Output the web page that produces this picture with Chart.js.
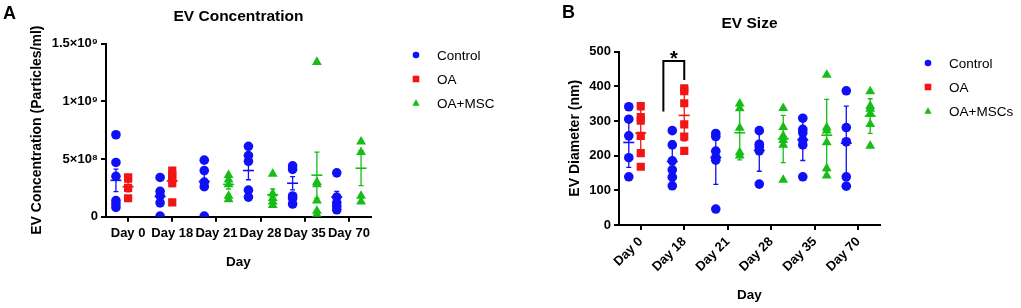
<!DOCTYPE html>
<html><head><meta charset="utf-8">
<script src="https://cdn.jsdelivr.net/npm/chart.js@4.4.1/dist/chart.umd.min.js"></script>
<style>
html,body{margin:0;padding:0;background:#fff;width:1021px;height:308px;overflow:hidden}
#ca{position:absolute;left:0;top:0;width:510px;height:308px}
#cb{position:absolute;left:510px;top:0;width:511px;height:308px}
</style></head><body>
<canvas id="ca" width="510" height="308"></canvas>
<canvas id="cb" width="511" height="308"></canvas>
<script>
// ---------- DATA ----------
const categories = ['Day 0', 'Day 18', 'Day 21', 'Day 28', 'Day 35', 'Day 70'];

// Panel A: EV concentration (particles/ml)
const concControl = [
  [7.1e8, 4.7e8, 3.5e8, 1.4e8, 1.1e8, 0.8e8],
  [3.4e8, 2.2e8, 1.8e8, 1.2e8, 0.05e8],
  [4.9e8, 4.0e8, 3.0e8, 2.6e8, 0.05e8],
  [6.1e8, 5.3e8, 4.8e8, 2.3e8, 1.7e8],
  [4.4e8, 4.1e8, 1.8e8, 1.6e8, 1.1e8],
  [3.8e8, 1.7e8, 1.2e8, 0.9e8, 0.6e8]
];
const concOA = [
  [3.4e8, 3.3e8, 2.5e8, 1.6e8],
  [4.0e8, 3.6e8, 3.3e8, 2.9e8, 1.25e8],
  null, null, null, null
];
const concMSC = [
  null, null,
  [3.6e8, 3.2e8, 2.8e8, 1.8e8, 1.5e8],
  [3.7e8, 2.0e8, 1.6e8, 1.3e8, 1.0e8],
  [13.4e8, 3.0e8, 2.8e8, 1.4e8, 0.5e8, 0.2e8],
  [6.5e8, 5.6e8, 1.8e8, 1.3e8]
];
const concMeanControl = [3.15e8, 1.75e8, 3.05e8, 4.0e8, 2.9e8, 1.7e8];
const concSemControl  = [0.97e8, 0.55e8, 0.75e8, 0.8e8, 0.58e8, 0.5e8];
const concMeanOA = [2.6e8, 3.1e8, null, null, null, null];
const concSemOA  = [0.45e8, 0.5e8, null, null, null, null];
const concMeanMSC = [null, null, 2.8e8, 1.9e8, 3.6e8, 4.2e8];
const concSemMSC  = [null, null, 0.4e8, 0.5e8, 2.0e8, 1.5e8];
const concTickValues = [0, 5e8, 1e9, 1.5e9];
const concTickLabels = ['0', '5×10⁸', '1×10⁹', '1.5×10⁹'];

// Panel B: EV size (nm)
const sizeControl = [
  [341, 305, 257, 194, 139],
  [272, 231, 185, 159, 138, 113],
  [264, 255, 213, 194, 187, 46],
  [272, 233, 225, 214, 118],
  [308, 276, 266, 245, 231, 139],
  [387, 281, 240, 139, 112]
];
const sizeOA = [
  [343, 311, 301, 257, 207, 168],
  [394, 386, 351, 290, 255, 214],
  null, null, null, null
];
const sizeMSC = [
  null, null,
  [350, 336, 280, 209, 200],
  [337, 282, 257, 245, 231, 130],
  [433, 281, 272, 238, 163, 142],
  [385, 343, 335, 322, 291, 228]
];
const sizeMeanControl = [238, 183, 195, 215, 246, 236];
const sizeSdControl   = [72, 59, 78, 60, 60, 107];
const sizeMeanOA = [265, 316, null, null, null, null];
const sizeSdOA   = [67, 73, null, null, null, null];
const sizeMeanMSC = [null, null, 266, 248, 259, 314];
const sizeSdMSC   = [null, null, 78, 68, 103, 50];
const sizeTickValues = [0, 100, 200, 300, 400, 500];
const sizeTickLabels = ['0', '100', '200', '300', '400', '500'];
// significance bracket: [xStart, xEnd, yTop, yLeftEnd, yRightEnd] (group units / nm)
const sizeBracket = [0.52, 1.0, 473, 327, 418];

// ---------- STYLE ----------
const FONT = 'Arial, "Liberation Sans", Helvetica, sans-serif';
const BLUE = '#0f0ff8', RED = '#f21515', GREEN = '#16bd16';
const OFF = 0.275;

function pts(groups, off) {
  const out = [];
  groups.forEach((vals, i) => { if (vals) vals.forEach(v => out.push({x: i + off, y: v})); });
  return out;
}

const errBars = {
  id: 'errBars',
  beforeDatasetsDraw(chart, args, opts) {
    const {ctx, scales: {x, y}} = chart;
    ctx.save();
    opts.groups.forEach(g => {
      g.mean.forEach((m, i) => {
        if (m == null) return;
        const px = x.getPixelForValue(i + g.off);
        const pm = y.getPixelForValue(m);
        const pt = y.getPixelForValue(m + g.err[i]);
        const pb = y.getPixelForValue(Math.max(m - g.err[i], 0));
        ctx.strokeStyle = g.color; ctx.lineWidth = 1.3;
        ctx.beginPath();
        ctx.moveTo(px, pt); ctx.lineTo(px, pb);
        ctx.moveTo(px - 2.5, pt); ctx.lineTo(px + 2.5, pt);
        if (m - g.err[i] > 0) { ctx.moveTo(px - 2.5, pb); ctx.lineTo(px + 2.5, pb); }
        ctx.stroke();
        ctx.lineWidth = 1.6;
        ctx.beginPath(); ctx.moveTo(px - 5.5, pm); ctx.lineTo(px + 5.5, pm); ctx.stroke();
      });
    });
    ctx.restore();
  }
};

function marker(ctx, style, x, y, r, color) {
  ctx.fillStyle = color;
  ctx.beginPath();
  if (style === 'circle') ctx.arc(x, y, r, 0, Math.PI * 2);
  else if (style === 'rect') ctx.rect(x - r, y - r, 2 * r, 2 * r);
  else { ctx.moveTo(x, y - r * 1.15); ctx.lineTo(x + r * 1.1, y + r * 0.85); ctx.lineTo(x - r * 1.1, y + r * 0.85); ctx.closePath(); }
  ctx.fill();
}

const deco = {
  id: 'deco',
  afterDraw(chart, args, o) {
    const {ctx} = chart;
    ctx.save();
    ctx.fillStyle = '#000';
    ctx.font = 'bold 18px ' + FONT;
    ctx.textBaseline = 'middle'; ctx.textAlign = 'left';
    ctx.fillText(o.letter, o.letterX, o.letterY);
    ctx.font = '13.5px ' + FONT;
    o.legend.forEach((it, k) => {
      const yy = o.legY + k * o.legStep;
      marker(ctx, it.style, o.legX, yy, 3.3, it.color);
      ctx.fillStyle = '#000';
      ctx.fillText(it.text, o.legX + 21, yy + 1);
    });
    if (o.bracket) {
      const {x, y} = chart.scales;
      const b = o.bracket;
      const x1 = x.getPixelForValue(b[0]), x2 = x.getPixelForValue(b[1]);
      const yt = y.getPixelForValue(b[2]);
      ctx.strokeStyle = '#000'; ctx.lineWidth = 2;
      ctx.beginPath();
      ctx.moveTo(x1, y.getPixelForValue(b[3])); ctx.lineTo(x1, yt); ctx.lineTo(x2, yt); ctx.lineTo(x2, y.getPixelForValue(b[4]));
      ctx.stroke();
      ctx.font = 'bold 20px ' + FONT; ctx.textAlign = 'center'; ctx.textBaseline = 'alphabetic';
      ctx.fillText('*', (x1 + x2) / 2, yt + 4);
    }
    ctx.restore();
  }
};

function ds(label, data, style, color, r) {
  return {label, data, pointStyle: style, pointRadius: r, pointHoverRadius: r,
    backgroundColor: color, borderColor: color, borderWidth: 0};
}

function axisCommon() {
  return {
    grid: {drawOnChartArea: false, drawTicks: true, tickLength: 5, color: '#000', lineWidth: 2},
    border: {color: '#000', width: 2}
  };
}

function makeChart(id, cfg) {
  const xs = Object.assign(axisCommon(), {
    type: 'linear', min: -0.5, max: 5.5,
    afterBuildTicks: s => { s.ticks = categories.map((c, i) => ({value: i})); },
    afterFit: s => { s.height = cfg.xHeight; },
    ticks: {autoSkip: false, maxRotation: cfg.rot, minRotation: cfg.rot, padding: cfg.xTickPad, color: '#000',
      font: {family: FONT, size: 13, weight: 'bold'}, callback: v => categories[v]},
    title: {display: true, text: 'Day', color: '#000', font: {family: FONT, size: 13.5, weight: 'bold'},
      padding: {top: 0, bottom: cfg.xTitlePad}}
  });
  const ys = Object.assign(axisCommon(), {
    type: 'linear', min: 0, max: cfg.yMax,
    afterBuildTicks: s => { s.ticks = cfg.yTicks.map(v => ({value: v})); },
    afterFit: s => { s.width = cfg.yWidth; },
    ticks: {color: '#000', padding: 3, font: {family: FONT, size: 13, weight: 'bold'},
      callback: (v, i) => cfg.yLabels[i]},
    title: {display: true, text: cfg.yTitle, color: '#000', font: {family: FONT, size: 14, weight: 'bold'},
      padding: {top: cfg.yTitlePad, bottom: 0}}
  });
  return new Chart(document.getElementById(id), {
    type: 'scatter',
    data: {datasets: cfg.datasets},
    options: {
      responsive: false, animation: false, devicePixelRatio: 1,
      layout: {padding: {left: 0, right: cfg.padRight, top: 0, bottom: 0}},
      plugins: {
        legend: {display: false}, tooltip: {enabled: false},
        title: {display: true, text: cfg.title, fullSize: false, color: '#000',
          font: {family: FONT, size: 15.5, weight: 'bold'}, padding: {top: cfg.titleTop, bottom: cfg.titleBottom}},
        errBars: {groups: cfg.err},
        deco: cfg.deco
      },
      scales: {x: xs, y: ys}
    },
    plugins: [errBars, deco]
  });
}

makeChart('ca', {
  title: 'EV Concentration', titleTop: 7, titleBottom: 18,
  padRight: 139, xHeight: 91.3, rot: 0, xTickPad: 4, xTitlePad: 38,
  yMax: 1.5e9, yTicks: concTickValues, yLabels: concTickLabels, yWidth: 106,
  yTitle: 'EV Concentration (Particles/ml)', yTitlePad: 29,
  datasets: [
    ds('Control', pts(concControl, -OFF), 'circle', BLUE, 4.8),
    ds('OA', pts(concOA, 0), 'rect', RED, 5.8),
    ds('OA+MSC', pts(concMSC, OFF), 'triangle', GREEN, 5.7)
  ],
  err: [
    {mean: concMeanControl, err: concSemControl, off: -OFF, color: BLUE},
    {mean: concMeanOA, err: concSemOA, off: 0, color: RED},
    {mean: concMeanMSC, err: concSemMSC, off: OFF, color: GREEN}
  ],
  deco: {letter: 'A', letterX: 3, letterY: 14, legX: 416, legY: 55, legStep: 24,
    legend: [{style: 'circle', color: BLUE, text: 'Control'}, {style: 'rect', color: RED, text: 'OA'},
      {style: 'tri', color: GREEN, text: 'OA+MSC'}]}
});

makeChart('cb', {
  title: 'EV Size', titleTop: 14, titleBottom: 19,
  padRight: 141, xHeight: 83, rot: 45, xTickPad: 4, xTitlePad: 5,
  yMax: 500, yTicks: sizeTickValues, yLabels: sizeTickLabels, yWidth: 109,
  yTitle: 'EV Diameter (nm)', yTitlePad: 56.5,
  datasets: [
    ds('Control', pts(sizeControl, -OFF), 'circle', BLUE, 4.8),
    ds('OA', pts(sizeOA, 0), 'rect', RED, 5.8),
    ds('OA+MSCs', pts(sizeMSC, OFF), 'triangle', GREEN, 5.7)
  ],
  err: [
    {mean: sizeMeanControl, err: sizeSdControl, off: -OFF, color: BLUE},
    {mean: sizeMeanOA, err: sizeSdOA, off: 0, color: RED},
    {mean: sizeMeanMSC, err: sizeSdMSC, off: OFF, color: GREEN}
  ],
  deco: {letter: 'B', letterX: 52, letterY: 13, legX: 418, legY: 63, legStep: 24, bracket: sizeBracket,
    legend: [{style: 'circle', color: BLUE, text: 'Control'}, {style: 'rect', color: RED, text: 'OA'},
      {style: 'tri', color: GREEN, text: 'OA+MSCs'}]}
});
</script>
</body></html>
